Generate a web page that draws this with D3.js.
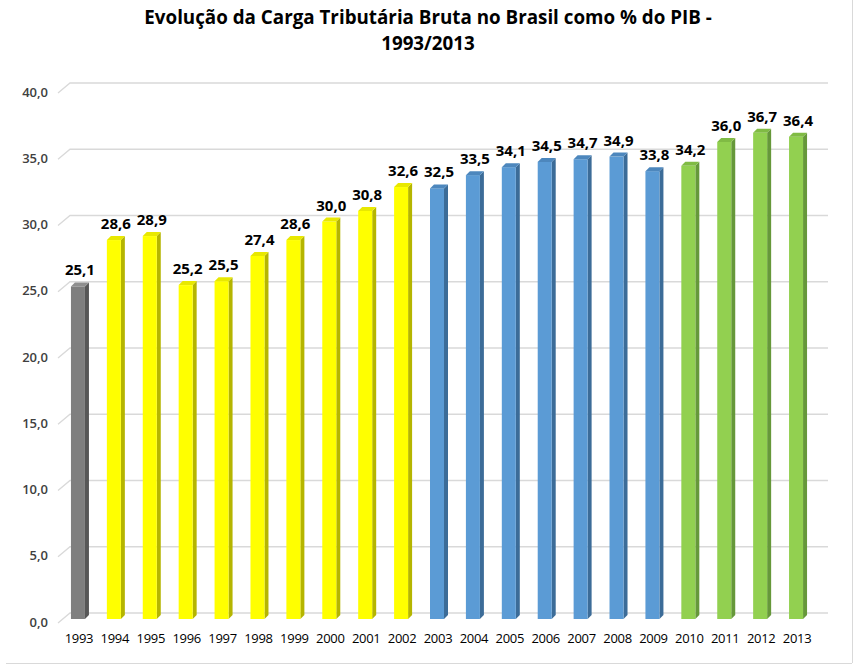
<!DOCTYPE html>
<html><head><meta charset="utf-8">
<script src="https://cdn.jsdelivr.net/npm/d3@7"></script>
<style>html,body{margin:0;padding:0;background:#fff}svg{display:block}</style>
</head><body>
<svg id="chart" width="854" height="665"></svg>
<script>
const years = ["1993","1994","1995","1996","1997","1998","1999","2000","2001","2002","2003","2004","2005","2006","2007","2008","2009","2010","2011","2012","2013"];
const values = [25.1,28.6,28.9,25.2,25.5,27.4,28.6,30.0,30.8,32.6,32.5,33.5,34.1,34.5,34.7,34.9,33.8,34.2,36.0,36.7,36.4];
const groups = ["g","y","y","y","y","y","y","y","y","y","b","b","b","b","b","b","b","gr","gr","gr","gr"];
const yTicks = [0,5,10,15,20,25,30,35,40];
const titleLines = ["Evolução da Carga Tributária Bruta no Brasil como % do PIB -","1993/2013"];

const palette = {
  g:  {front:"#7f7f7f", side:"#575757", top:"#8f8f8f"},
  y:  {front:"#ffff00", side:"#b5b500", top:"#e8e800"},
  b:  {front:"#5b9bd5", side:"#3c6c98", top:"#4d87bd"},
  gr: {front:"#92d050", side:"#66983a", top:"#80bb44"}
};
const loc = d3.formatLocale({decimal:",", thousands:".", grouping:[3], currency:["R$",""]});
const fmt = loc.format(".1f");

const svg = d3.select("#chart");
const font = "'Open Sans', 'DejaVu Sans', sans-serif";

// border
svg.append("line").attr("x1",6).attr("x2",852).attr("y1",663.5).attr("y2",663.5).attr("stroke","#d9d9d9");
svg.append("line").attr("x1",852.5).attr("x2",852.5).attr("y1",0).attr("y2",663).attr("stroke","#d9d9d9");

// title
svg.append("g").selectAll("text").data(titleLines).join("text")
  .attr("x",428).attr("y",(d,i)=>24+i*26)
  .attr("text-anchor","middle").attr("font-family",font).attr("font-weight","bold")
  .attr("font-size",18.8).attr("fill","#000").text(d=>d);

const y = d3.scaleLinear().domain([0,40]).range([622,92]);
const x = d3.scaleBand().domain(years).range([61,815]).paddingInner(0).paddingOuter(0);

const backDx = 12, backDy = 10;
const gx0 = 58, gx1 = 828;

// gridlines
const grid = svg.append("g");
yTicks.forEach(t=>{
  const yy = y(t)+1;
  grid.append("path")
    .attr("d",`M${gx0},${yy}L${gx0+backDx},${yy-backDy}L${gx1},${yy-backDy}`)
    .attr("fill","none").attr("stroke","#d9d9d9").attr("stroke-width",1.3);
});

// y axis
const yAxis = svg.append("g").attr("transform","translate(48,0)")
  .call(d3.axisLeft(y).tickValues(yTicks).tickSize(0).tickPadding(0).tickFormat(fmt));
yAxis.select(".domain").remove();
yAxis.selectAll("text").attr("font-family",font).attr("font-size",13).attr("fill","#404040").attr("font-weight",600);

// x axis
const xAxis = svg.append("g").attr("transform","translate(0,631)")
  .call(d3.axisBottom(x).tickSize(0).tickPadding(0));
xAxis.select(".domain").remove();
xAxis.selectAll("text").attr("font-family",font).attr("font-size",13).attr("fill","#000").attr("dy","0.9em")
  .attr("letter-spacing","-0.3");

// bars
const bw = 14, sd = 4, td = 4, lift = 3;
const data = years.map((yr,i)=>({yr, v:values[i], c:palette[groups[i]]}));
const bars = svg.append("g").selectAll("g").data(data).join("g");
bars.each(function(d){
  const g = d3.select(this);
  const cx = x(d.yr) + x.bandwidth()/2;
  const x0 = cx - bw/2 - 1, x1 = x0 + bw;
  const yb = y(0) - lift, yt = y(d.v) - lift;
  g.append("path").attr("d",`M${x1},${yt}L${x1+sd},${yt-td}L${x1+sd},${yb-td}L${x1},${yb}Z`).attr("fill",d.c.side);
  g.append("rect").attr("x",x0).attr("y",yt).attr("width",bw).attr("height",yb-yt).attr("fill",d.c.front);
  g.append("path").attr("d",`M${x0},${yt}L${x0+sd},${yt-td}L${x1+sd},${yt-td}L${x1},${yt}Z`).attr("fill",d.c.top);
  g.append("text").attr("x",cx+1).attr("y",yt-td-7).attr("text-anchor","middle")
    .attr("font-family",font).attr("font-weight","bold").attr("font-size",15).attr("fill","#000")
    .text(fmt(d.v));
});
</script>
</body></html>
